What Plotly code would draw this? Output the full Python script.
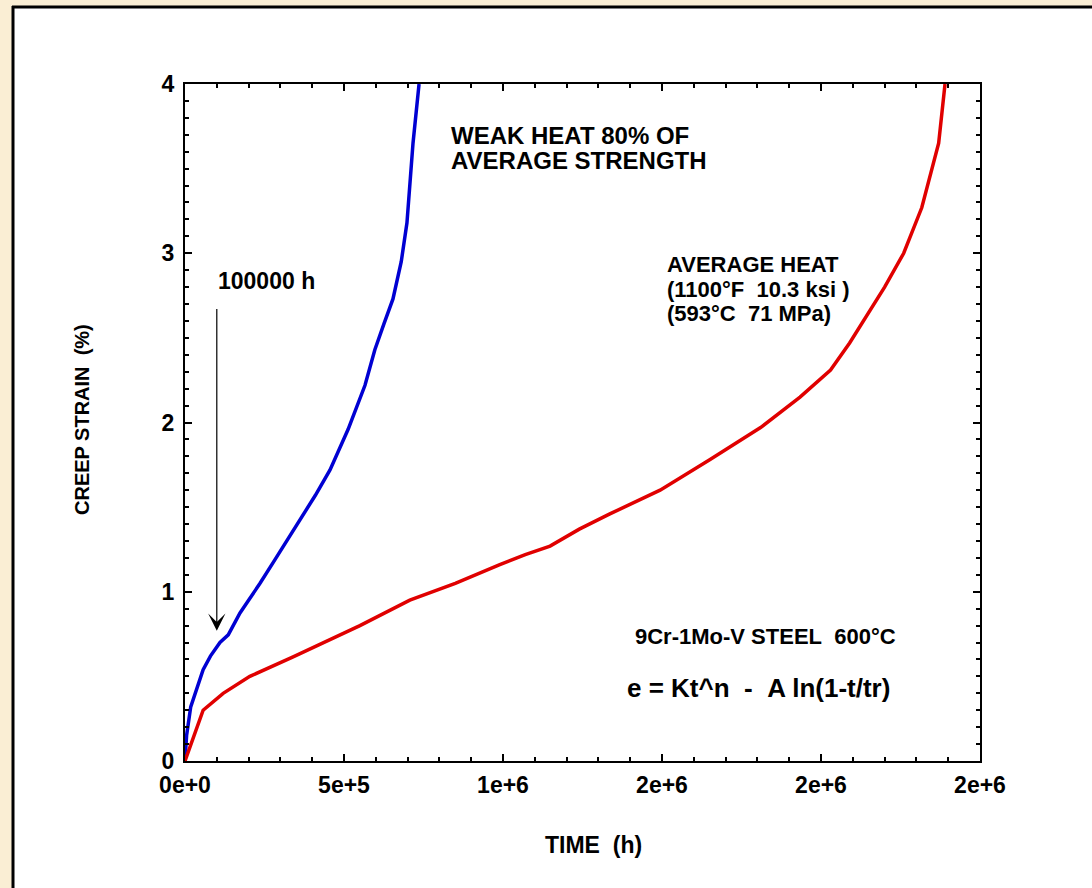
import plotly.graph_objects as go

# ---- data ----
weak_t = [0, 5e3, 18e3, 40e3, 57e3, 80e3, 110e3, 136e3, 173e3, 200e3, 236e3, 283e3,
          320e3, 362e3, 410e3, 456e3, 513e3, 566e3, 597e3, 625e3, 654e3, 680e3,
          698e3, 717e3, 736e3]
weak_e = [0, 0.15, 0.32, 0.45, 0.54, 0.62, 0.70, 0.745, 0.875, 0.95, 1.05, 1.19,
          1.30, 1.425, 1.57, 1.72, 1.96, 2.22, 2.43, 2.58, 2.73, 2.95,
          3.18, 3.65, 4.0]

avg_t = [0, 31e3, 57e3, 120e3, 204e3, 340e3, 550e3, 707e3, 850e3, 990e3, 1.07e6,
         1.148e6, 1.24e6, 1.336e6, 1.494e6, 1.65e6, 1.81e6, 1.934e6, 2.03e6, 2.09e6,
         2.14e6, 2.2e6, 2.26e6, 2.317e6, 2.37e6, 2.39e6]
avg_e = [0, 0.165, 0.30, 0.40, 0.50, 0.615, 0.80, 0.95, 1.05, 1.16, 1.22,
         1.27, 1.37, 1.46, 1.60, 1.78, 1.97, 2.15, 2.31, 2.47,
         2.62, 2.80, 3.00, 3.27, 3.65, 4.0]

x_tickvals = [0, 5e5, 1e6, 1.5e6, 2e6, 2.5e6]
x_ticktext = ["0e+0", "5e+5", "1e+6", "2e+6", "2e+6", "2e+6"]
y_tickvals = [0, 1, 2, 3, 4]
y_ticktext = ["0", "1", "2", "3", "4"]

FONT = "Liberation Sans, Arial, sans-serif"
NB = "\u00a0"
CREAM = "#faeed4"

fig = go.Figure()
fig.add_trace(go.Scatter(x=weak_t, y=weak_e, mode="lines",
                         line=dict(color="#0000d2", width=3.5), showlegend=False))
fig.add_trace(go.Scatter(x=avg_t, y=avg_e, mode="lines",
                         line=dict(color="#e00000", width=3.5), showlegend=False))

W, H = 1092, 888
L, R, T, B = 185, 980, 84, 761
def px(xp):
    return (xp - L) / (R - L)
def py(yp):
    return (B - yp) / (B - T)

shapes = [
    # cream frame strips (left and top)
    dict(type="rect", xref="paper", yref="paper", x0=px(-10), x1=px(13), y0=py(1000), y1=py(-10),
         fillcolor=CREAM, line=dict(width=0), layer="below"),
    dict(type="rect", xref="paper", yref="paper", x0=px(-10), x1=px(1200), y0=py(7), y1=py(-10),
         fillcolor=CREAM, line=dict(width=0), layer="below"),
    dict(type="line", xref="paper", yref="paper", x0=px(13), x1=px(13), y0=py(1000), y1=py(6),
         line=dict(color="black", width=3)),
    dict(type="line", xref="paper", yref="paper", x0=px(12), x1=px(1200), y0=py(7), y1=py(7),
         line=dict(color="black", width=3)),
]

def txt(text, xp, yp, size=22, xanchor="left", angle=0):
    return dict(text=text, xref="paper", yref="paper", x=px(xp), y=py(yp), showarrow=False,
                xanchor=xanchor, yanchor="middle", textangle=angle,
                font=dict(family=FONT, size=size, color="black", weight="bold"))

annotations = [
    txt("WEAK HEAT 80% OF", 449, 135, 24),
    txt("AVERAGE STRENGTH", 449, 160, 24),
    txt("100000 h", 216, 281, 23),
    txt("AVERAGE HEAT", 665, 264, 22),
    txt(f"(1100°F{NB}{NB}10.3 ksi )", 665, 289, 22),
    txt(f"(593°C{NB}{NB}71 MPa)", 665, 313, 22),
    txt(f"9Cr-1Mo-V STEEL{NB}{NB}600°C", 633, 636, 22),
    txt(f"e = Kt^n{NB}{NB}-{NB}{NB}A ln(1-t/tr)", 625, 688, 26),
    txt(f"TIME{NB}{NB}(h)", 593, 845, 23, xanchor="center"),
    txt(f"CREEP STRAIN{NB}{NB}(%)", 82, 420, 20, xanchor="center", angle=-90),
    dict(x=1e5, y=0.77, ax=1e5, ay=2.68, xref="x", yref="y", axref="x", ayref="y",
         showarrow=True, arrowhead=3, arrowsize=2.4, arrowwidth=1.2, arrowcolor="black", text=""),
]

axis_common = dict(showline=True, linecolor="black", linewidth=2, mirror="allticks",
                   ticks="inside", ticklen=7, tickwidth=1.5, tickcolor="black",
                   showgrid=False, zeroline=False,
                   tickfont=dict(family=FONT, size=23, color="black", weight="bold"))

fig.update_layout(
    width=W, height=H,
    margin=dict(l=L, r=W - R, t=T, b=H - B),
    paper_bgcolor="white", plot_bgcolor="white",
    shapes=shapes, annotations=annotations,
    xaxis=dict(range=[0, 2.5e6], tickvals=x_tickvals, ticktext=x_ticktext,
               minor=dict(dtick=1e5, ticks="inside", ticklen=4, tickcolor="black", tickwidth=1.5),
               ticklabelstandoff=2, **axis_common),
    yaxis=dict(range=[0, 4], tickvals=y_tickvals, ticktext=y_ticktext,
               minor=dict(dtick=0.1, ticks="inside", ticklen=4, tickcolor="black", tickwidth=1.5),
               ticklabelstandoff=4, **axis_common),
)

fig.write_html("out.html")
